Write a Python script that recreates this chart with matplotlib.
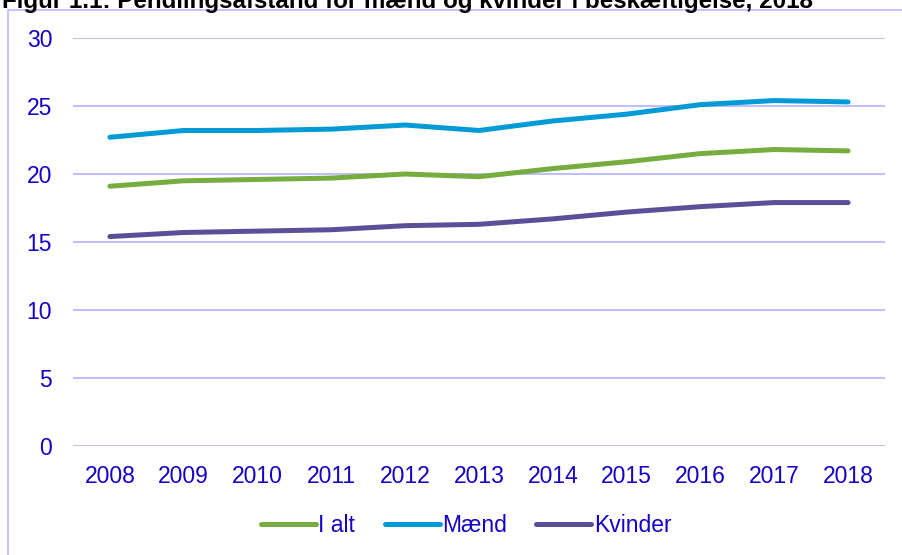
import matplotlib
matplotlib.use("Agg")
import matplotlib.pyplot as plt
from matplotlib.patches import Rectangle

# data
aar = ["2008", "2009", "2010", "2011", "2012", "2013", "2014", "2015", "2016", "2017", "2018"]
i_alt = [19.1, 19.5, 19.6, 19.7, 20.0, 19.8, 20.4, 20.9, 21.5, 21.8, 21.7]
maend = [22.7, 23.2, 23.2, 23.3, 23.6, 23.2, 23.9, 24.4, 25.1, 25.4, 25.3]
kvinder = [15.4, 15.7, 15.8, 15.9, 16.2, 16.3, 16.7, 17.2, 17.6, 17.9, 17.9]

tekstfarve = "#1400C8"
gitterfarve = "#BBB7FF"

plt.rcParams["font.family"] = ["Liberation Sans", "DejaVu Sans"]

fig = plt.figure(figsize=(9.03, 5.55), dpi=100)
ax = fig.add_axes([73 / 903, 1 - 446 / 555, 812 / 903, 408 / 555])

# ramme om figuren
fig.patches.append(Rectangle((8 / 903, -0.1), 1.2, 1 - 10 / 555 + 0.1,
                             transform=fig.transFigure, fill=False,
                             edgecolor=gitterfarve, linewidth=1.2))

# titel, der er skaaret af i toppen (som i originalen)
fig.text(2 / 903, 1 - 8 / 555, "Figur 1.1: Pendlingsafstand for mænd og kvinder i beskæftigelse, 2018",
         fontsize=17.4, fontweight="bold", color="black", ha="left", va="baseline")

x = list(range(len(aar)))
ax.plot(x, i_alt, color="#77AC3F", linewidth=3.6, solid_capstyle="round", label="I alt")
ax.plot(x, maend, color="#009BD7", linewidth=3.6, solid_capstyle="round", label="Mænd")
ax.plot(x, kvinder, color="#5A4F98", linewidth=3.6, solid_capstyle="round", label="Kvinder")

ax.set_xlim(-0.5, len(aar) - 0.5)
ax.set_ylim(0, 30)
ax.set_yticks([0, 5, 10, 15, 20, 25, 30])
ax.set_xticks(x)
ax.set_xticklabels(aar)
ax.grid(axis="y", color=gitterfarve, linewidth=1.3)
ax.set_axisbelow(True)
for s in ax.spines.values():
    s.set_visible(False)
ax.tick_params(axis="both", length=0, labelsize=16.5, colors=tekstfarve)
ax.tick_params(axis="y", pad=15)
ax.tick_params(axis="x", pad=14)

leg = fig.legend(loc="center", bbox_to_anchor=(466 / 903, 1 - 526 / 555), ncol=3,
                 frameon=False, fontsize=16.5, handlelength=2.4, handletextpad=0.1,
                 columnspacing=1.3)
for t in leg.get_texts():
    t.set_color(tekstfarve)
for h in leg.get_lines():
    h.set_solid_capstyle("round")

fig.savefig("out.png", dpi=100)
